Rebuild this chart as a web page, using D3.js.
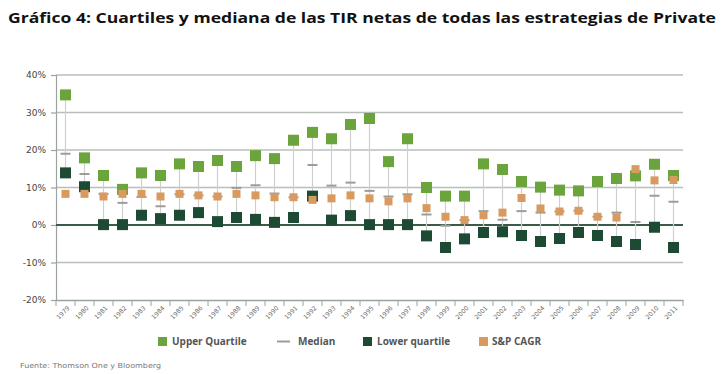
<!DOCTYPE html>
<html><head><meta charset="utf-8">
<script src="https://cdn.jsdelivr.net/npm/d3@7"></script>
<style>
html,body{margin:0;padding:0;background:#fff;}
svg{display:block;}
</style></head>
<body>
<svg id="c" width="724" height="374"></svg>
<script>
const years = ["1979","1980","1981","1982","1983","1984","1985","1986","1987","1988","1989","1990","1991","1992","1993","1994","1995","1996","1997","1998","1999","2000","2001","2002","2003","2004","2005","2006","2007","2008","2009","2010","2011"];
const upperQuartile = [34.7,17.9,13.2,9.5,13.9,13.2,16.3,15.6,17.2,15.6,18.5,17.7,22.6,24.7,23.0,26.8,28.4,16.9,23.0,10.0,7.7,7.7,16.3,14.8,11.6,10.1,9.3,9.1,11.6,12.4,13.1,16.2,13.2];
const median = [19.0,13.6,8.3,5.9,7.5,5.0,8.2,7.9,7.6,9.9,10.6,8.4,7.4,16.0,10.5,11.3,9.1,7.6,8.2,2.8,-0.2,1.3,3.7,1.4,3.7,3.3,3.6,3.8,2.2,3.3,0.8,7.8,6.2];
const lowerQuartile = [13.9,10.2,0.1,0.1,2.6,1.7,2.6,3.3,0.9,2.0,1.5,0.7,2.0,7.7,1.3,2.5,0.1,0.1,0.1,-2.9,-6.0,-3.7,-2.0,-1.8,-2.8,-4.4,-3.6,-2.0,-2.8,-4.4,-5.2,-0.6,-6.0];
const spCagr = [8.3,8.3,7.6,8.3,8.3,7.6,8.3,7.9,7.6,8.3,7.9,7.4,7.4,6.7,7.1,7.9,7.1,6.3,7.1,4.5,2.2,1.3,2.6,3.3,7.2,4.4,3.6,3.8,2.2,2.0,14.9,11.9,12.0];
const yTicks = [-20,-10,0,10,20,30,40];
const legendLabels = ["Upper Quartile","Median","Lower quartile","S&P CAGR"];
const titleText = "Gráfico 4: Cuartiles y mediana de las TIR netas de todas las estrategias de Private";
const sourceText = "Fuente: Thomson One y Bloomberg";

const colUpper = "#6ba43c", colLower = "#1d4a33", colSp = "#d99a60", colMed = "#9c9c9c";

const svg = d3.select("#c");
const x = d3.scaleBand().domain(years).range([56, 683]).padding(0);
const y = d3.scaleLinear().domain([-20, 40]).range([300, 75]);
const cx = d => x(d) + x.bandwidth() / 2;

// title
const t = svg.append("text").attr("x", 8).attr("y", 23)
  .attr("font-family", "'Open Sans', sans-serif").attr("font-weight", "bold")
  .attr("font-size", 15).attr("fill", "#111").text(titleText);
t.attr("textLength", 708).attr("lengthAdjust", "spacingAndGlyphs");

// gridlines
svg.append("g").selectAll("line").data(yTicks.filter(v => v !== 0 && v !== -20)).join("line")
  .attr("x1", 56).attr("x2", 683).attr("y1", d => y(d)).attr("y2", d => y(d))
  .attr("stroke", "#b8bfbb").attr("stroke-width", 1.5);

// y axis
const yAxis = svg.append("g").attr("transform", "translate(56,0)")
  .call(d3.axisLeft(y).tickValues(yTicks).tickFormat(d => d + "%").tickSize(5).tickPadding(5));
yAxis.select(".domain").attr("stroke", "#9aa39e").attr("stroke-width", 1.2);
yAxis.selectAll(".tick line").attr("stroke", "#9aa39e").attr("stroke-width", 1.2);
yAxis.selectAll("text").attr("font-family", "'DejaVu Sans', sans-serif").attr("font-size", 9).attr("fill", "#444");

// x axis
const xAxis = svg.append("g").attr("transform", "translate(0," + y(-20) + ")")
  .call(d3.axisBottom(x).tickSize(0).tickSizeOuter(0));
xAxis.select(".domain").attr("stroke", "#9aa39e").attr("stroke-width", 1.5);
xAxis.selectAll(".tick text")
  .attr("font-family", "'DejaVu Sans', sans-serif").attr("font-size", 6.2).attr("fill", "#666")
  .attr("text-anchor", "end").attr("transform", "translate(3,7) rotate(-45)").attr("dy", "0.35em").attr("y", 0).attr("x", 0);
// band boundary ticks
svg.append("g").selectAll("line").data(years.concat(["end"])).join("line")
  .attr("x1", (d, i) => i < years.length ? x(d) : x(years[years.length - 1]) + x.bandwidth())
  .attr("x2", (d, i) => i < years.length ? x(d) : x(years[years.length - 1]) + x.bandwidth())
  .attr("y1", y(-20)).attr("y2", y(-20) + 6).attr("stroke", "#9aa39e").attr("stroke-width", 1);

// zero line
svg.append("line").attr("x1", 56).attr("x2", 683).attr("y1", y(0)).attr("y2", y(0))
  .attr("stroke", "#3b5a47").attr("stroke-width", 2);

const idx = d3.range(years.length);

// range lines
svg.append("g").selectAll("line").data(idx).join("line")
  .attr("x1", i => cx(years[i])).attr("x2", i => cx(years[i]))
  .attr("y1", i => y(upperQuartile[i])).attr("y2", i => y(lowerQuartile[i]))
  .attr("stroke", "#cfcfcf").attr("stroke-width", 1.2);

// median dashes
svg.append("g").selectAll("line").data(idx).join("line")
  .attr("x1", i => cx(years[i]) - 5).attr("x2", i => cx(years[i]) + 5)
  .attr("y1", i => y(median[i])).attr("y2", i => y(median[i]))
  .attr("stroke", colMed).attr("stroke-width", 2);

function squares(vals, size, color) {
  svg.append("g").selectAll("rect").data(idx).join("rect")
    .attr("x", i => cx(years[i]) - size / 2).attr("y", i => y(vals[i]) - size / 2)
    .attr("width", size).attr("height", size).attr("fill", color);
}
squares(lowerQuartile, 11, colLower);
squares(upperQuartile, 11, colUpper);
squares(spCagr, 8, colSp);

// legend
const lg = svg.append("g").attr("font-family", "'Open Sans', sans-serif").attr("font-weight", "bold")
  .attr("font-size", 10).attr("fill", "#555");
const legendItems = [
  {label: legendLabels[0], type: "sq", color: colUpper, mx: 158, tx: 172},
  {label: legendLabels[1], type: "dash", color: colMed, mx: 277, tx: 298},
  {label: legendLabels[2], type: "sq", color: colLower, mx: 363, tx: 377},
  {label: legendLabels[3], type: "sq", color: colSp, mx: 479, tx: 492}
];
legendItems.forEach(it => {
  if (it.type === "sq") {
    lg.append("rect").attr("x", it.mx).attr("y", 337).attr("width", 9).attr("height", 9).attr("fill", it.color);
  } else {
    lg.append("line").attr("x1", it.mx).attr("x2", it.mx + 13).attr("y1", 341.5).attr("y2", 341.5)
      .attr("stroke", it.color).attr("stroke-width", 2);
  }
  lg.append("text").attr("x", it.tx).attr("y", 345).text(it.label);
});

// source
svg.append("text").attr("x", 20).attr("y", 368)
  .attr("font-family", "'DejaVu Sans', sans-serif").attr("font-size", 7).attr("fill", "#777")
  .attr("textLength", 141).attr("lengthAdjust", "spacingAndGlyphs").text(sourceText);
</script>
</body></html>
